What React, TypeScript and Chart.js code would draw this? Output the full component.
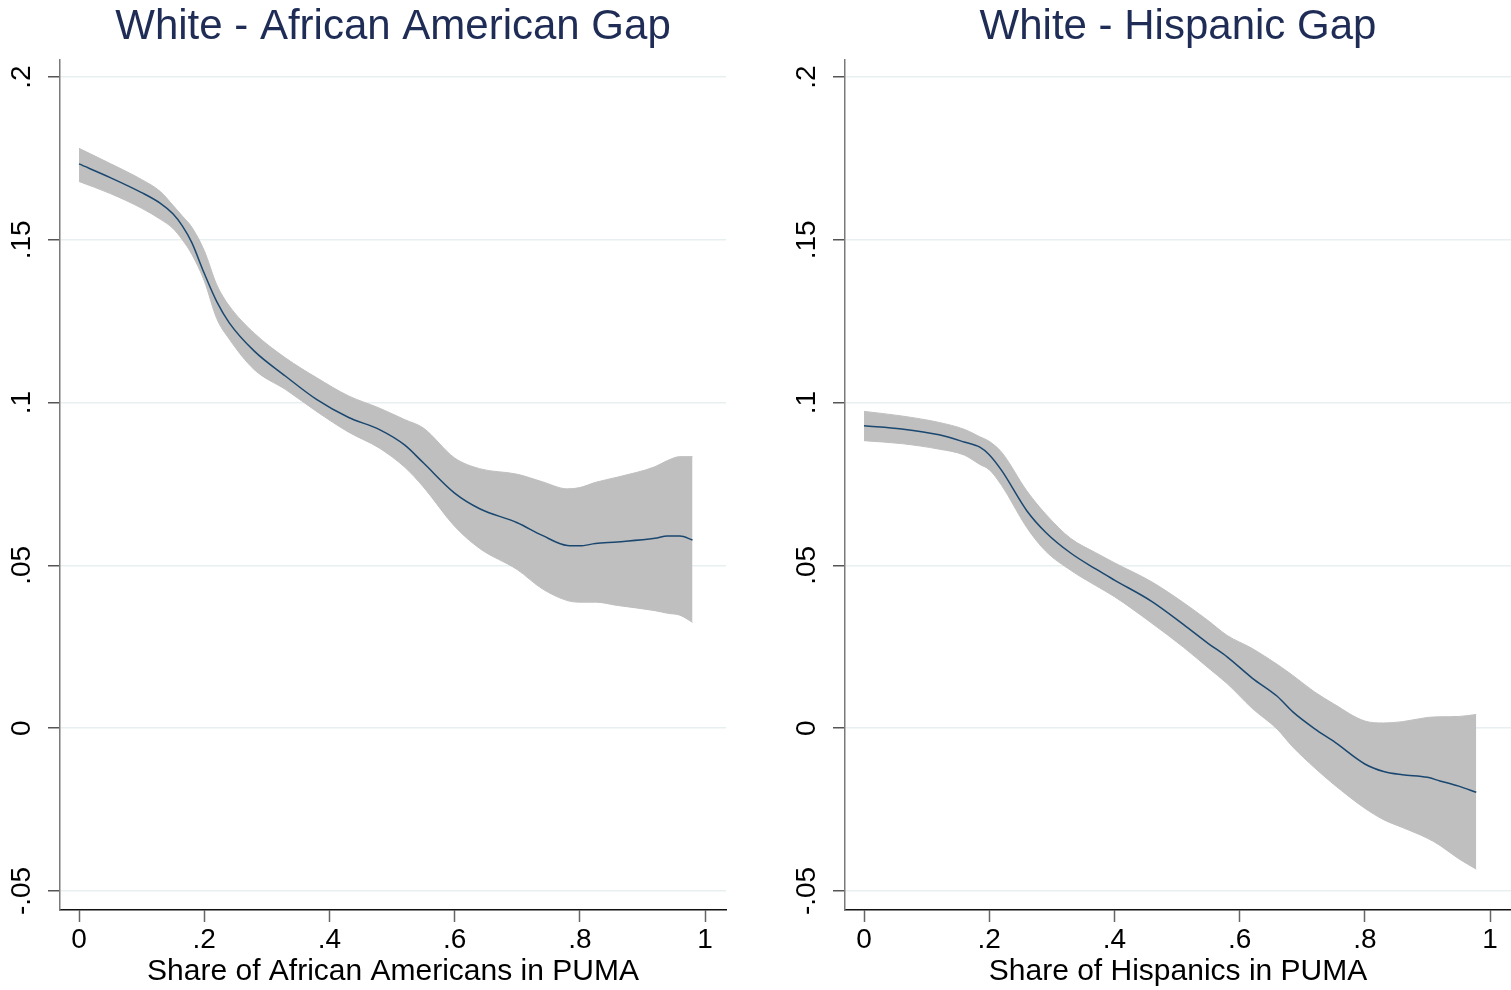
import React, { useEffect, useRef } from 'react';
import { Chart, registerables } from 'chart.js';

Chart.register(...registerables);

// ---------- data ----------
const yTickValues = [-0.05, 0, 0.05, 0.1, 0.15, 0.2];
const yTickLabels = ['-.05', '0', '.05', '.1', '.15', '.2'];
const xTickValues = [0, 0.2, 0.4, 0.6, 0.8, 1];
const xTickLabels = ['0', '.2', '.4', '.6', '.8', '1'];

const blackTitle = 'White - African American Gap';
const blackXTitle = 'Share of African Americans in PUMA';
const blackX = [0, 0.05, 0.1, 0.13, 0.15, 0.165, 0.18, 0.2, 0.22, 0.24, 0.28, 0.33, 0.38, 0.43, 0.48, 0.52, 0.55, 0.6, 0.64, 0.7, 0.74, 0.78, 0.8, 0.825, 0.86, 0.92, 0.94, 0.96, 0.98];
const blackFit = [0.1733, 0.1691, 0.1645, 0.1612, 0.158, 0.1543, 0.1492, 0.1397, 0.131, 0.1245, 0.1158, 0.1081, 0.1009, 0.0955, 0.0917, 0.087, 0.0815, 0.0722, 0.0674, 0.0631, 0.0592, 0.0561, 0.056, 0.0567, 0.0572, 0.0583, 0.059, 0.059, 0.0578];
const blackUpper = [0.1781, 0.1734, 0.1685, 0.1648, 0.1606, 0.1573, 0.1539, 0.1467, 0.1362, 0.1297, 0.1213, 0.1137, 0.1076, 0.1021, 0.0983, 0.0948, 0.0922, 0.083, 0.0797, 0.078, 0.0757, 0.0735, 0.0739, 0.0755, 0.0771, 0.0803, 0.0822, 0.0834, 0.0834];
const blackLower = [0.1679, 0.1642, 0.1597, 0.1563, 0.1535, 0.15, 0.1456, 0.1374, 0.1258, 0.1195, 0.1101, 0.104, 0.0972, 0.091, 0.086, 0.0802, 0.0741, 0.062, 0.0552, 0.0487, 0.0428, 0.0392, 0.0387, 0.0387, 0.0377, 0.0361, 0.0353, 0.0347, 0.0325];

const hispTitle = 'White - Hispanic Gap';
const hispXTitle = 'Share of Hispanics in PUMA';
const hispX = [0, 0.06, 0.12, 0.16, 0.185, 0.2, 0.22, 0.26, 0.29, 0.33, 0.37, 0.4, 0.46, 0.51, 0.55, 0.58, 0.62, 0.66, 0.685, 0.72, 0.75, 0.8, 0.83, 0.86, 0.9, 0.92, 0.95, 0.978];
const hispFit = [0.0929, 0.0919, 0.0901, 0.0879, 0.0863, 0.084, 0.0791, 0.0668, 0.0602, 0.0538, 0.0489, 0.0455, 0.0389, 0.0319, 0.026, 0.0219, 0.0154, 0.0098, 0.005, -0.0002, -0.004, -0.011, -0.0133, -0.0143, -0.0151, -0.0162, -0.0178, -0.0197];
const hispUpper = [0.0973, 0.0959, 0.0939, 0.0918, 0.0895, 0.0881, 0.0847, 0.0729, 0.0658, 0.0583, 0.0539, 0.0508, 0.0449, 0.0386, 0.033, 0.0285, 0.0245, 0.0196, 0.0162, 0.0111, 0.0075, 0.0022, 0.0016, 0.002, 0.0033, 0.0035, 0.0036, 0.0042];
const hispLower = [0.0883, 0.0874, 0.0857, 0.0839, 0.081, 0.0794, 0.0745, 0.0616, 0.0544, 0.0485, 0.0438, 0.0404, 0.0322, 0.0249, 0.0185, 0.0137, 0.0061, -0.0003, -0.0058, -0.0122, -0.0172, -0.0246, -0.0281, -0.0305, -0.0338, -0.036, -0.0401, -0.0433];

// ---------- styles ----------
const FONT = "'Liberation Sans', Arial, Helvetica, sans-serif";
const TITLE_COLOR = '#1e2c56';
const LINE_COLOR = '#1a476f';
const BAND_COLOR = '#bfbfbf';
const GRID_COLOR = '#e8eff0';
const TICK_FONT_SIZE = 28;

type PanelProps = {
  title: string;
  xTitle: string;
  xs: number[];
  fit: number[];
  upper: number[];
  lower: number[];
  left: number;
  width: number;
  padRight: number;
};

function Panel({ title, xTitle, xs, fit, upper, lower, left, width, padRight }: PanelProps) {
  const ref = useRef<HTMLCanvasElement | null>(null);

  useEffect(() => {
    if (!ref.current) return;
    const toPts = (ys: number[]) => xs.map((x, i) => ({ x, y: ys[i] }));

    const yLabelPlugin = {
      id: 'yRotLabels',
      afterDraw(chart: any) {
        const s = chart.scales.y;
        const ctx = chart.ctx;
        ctx.save();
        ctx.fillStyle = '#000';
        ctx.font = `${TICK_FONT_SIZE}px ${FONT}`;
        ctx.textAlign = 'center';
        ctx.textBaseline = 'alphabetic';
        yTickValues.forEach((v, i) => {
          const py = s.getPixelForValue(v);
          ctx.save();
          ctx.translate(s.left + 30, py);
          ctx.rotate(-Math.PI / 2);
          ctx.fillText(yTickLabels[i], 0, 0);
          ctx.restore();
        });
        ctx.restore();
      },
    };

    const chart = new Chart(ref.current, {
      type: 'line',
      data: {
        datasets: [
          {
            data: toPts(fit),
            borderColor: LINE_COLOR,
            borderWidth: 1.5,
            pointRadius: 0,
            fill: false,
            cubicInterpolationMode: 'monotone',
          },
          {
            data: toPts(upper),
            borderColor: BAND_COLOR,
            borderWidth: 1,
            backgroundColor: BAND_COLOR,
            pointRadius: 0,
            fill: '+1',
            cubicInterpolationMode: 'monotone',
          },
          {
            data: toPts(lower),
            borderColor: BAND_COLOR,
            borderWidth: 1,
            pointRadius: 0,
            fill: false,
            cubicInterpolationMode: 'monotone',
          },
        ],
      },
      options: {
        animation: false,
        responsive: false,
        devicePixelRatio: 1,
        layout: { padding: { top: 0, left: 0, right: padRight, bottom: 0 } },
        plugins: {
          legend: { display: false },
          tooltip: { enabled: false },
          title: {
            display: true,
            text: title,
            fullSize: false,
            color: TITLE_COLOR,
            font: { family: FONT, size: 42, weight: 'normal', lineHeight: 1.2 },
            padding: { top: 2.5, bottom: 7.1 },
          },
        },
        scales: {
          x: {
            type: 'linear',
            min: -0.0304,
            max: 1.0335,
            afterBuildTicks: (scale: any) => {
              scale.ticks = xTickValues.map((v) => ({ value: v }));
            },
            afterFit: (scale: any) => {
              scale.height = 80;
            },
            ticks: {
              autoSkip: false,
              maxRotation: 0,
              minRotation: 0,
              padding: 1,
              color: '#000',
              font: { family: FONT, size: TICK_FONT_SIZE, lineHeight: 1.2 },
              callback: (_v: any, i: number) => xTickLabels[i],
            },
            grid: {
              drawOnChartArea: false,
              drawTicks: true,
              tickLength: 12,
              tickColor: '#666',
              tickWidth: 1.5,
            },
            border: { display: true, color: '#111', width: 1.5 },
            title: {
              display: true,
              text: xTitle,
              color: '#000',
              font: { family: FONT, size: 30, lineHeight: 1.2 },
              padding: { top: 0, bottom: 0 },
            },
          },
          y: {
            type: 'linear',
            min: -0.05584,
            max: 0.20522,
            afterBuildTicks: (scale: any) => {
              scale.ticks = yTickValues.map((v) => ({ value: v }));
            },
            afterFit: (scale: any) => {
              scale.width = 60;
            },
            ticks: { display: false },
            grid: {
              color: GRID_COLOR,
              lineWidth: 1.5,
              drawTicks: true,
              tickLength: 12,
              tickColor: '#555',
              tickWidth: 1.5,
            },
            border: { display: true, color: '#7a7a7a', width: 1.5 },
          },
        },
      } as any,
      plugins: [yLabelPlugin],
    });
    return () => chart.destroy();
  }, []);

  return (
    <canvas
      ref={ref}
      width={width}
      height={990}
      style={{ position: 'absolute', left, top: 0, width, height: 990 }}
    />
  );
}

export default function App() {
  return (
    <div style={{ position: 'absolute', left: 0, top: 0, width: 1511, height: 990, background: '#fff', overflow: 'hidden' }}>
      <Panel title={blackTitle} xTitle={blackXTitle} xs={blackX} fit={blackFit} upper={blackUpper} lower={blackLower} left={0} width={785} padRight={59} />
      <Panel title={hispTitle} xTitle={hispXTitle} xs={hispX} fit={hispFit} upper={hispUpper} lower={hispLower} left={785} width={726} padRight={0} />
    </div>
  );
}
